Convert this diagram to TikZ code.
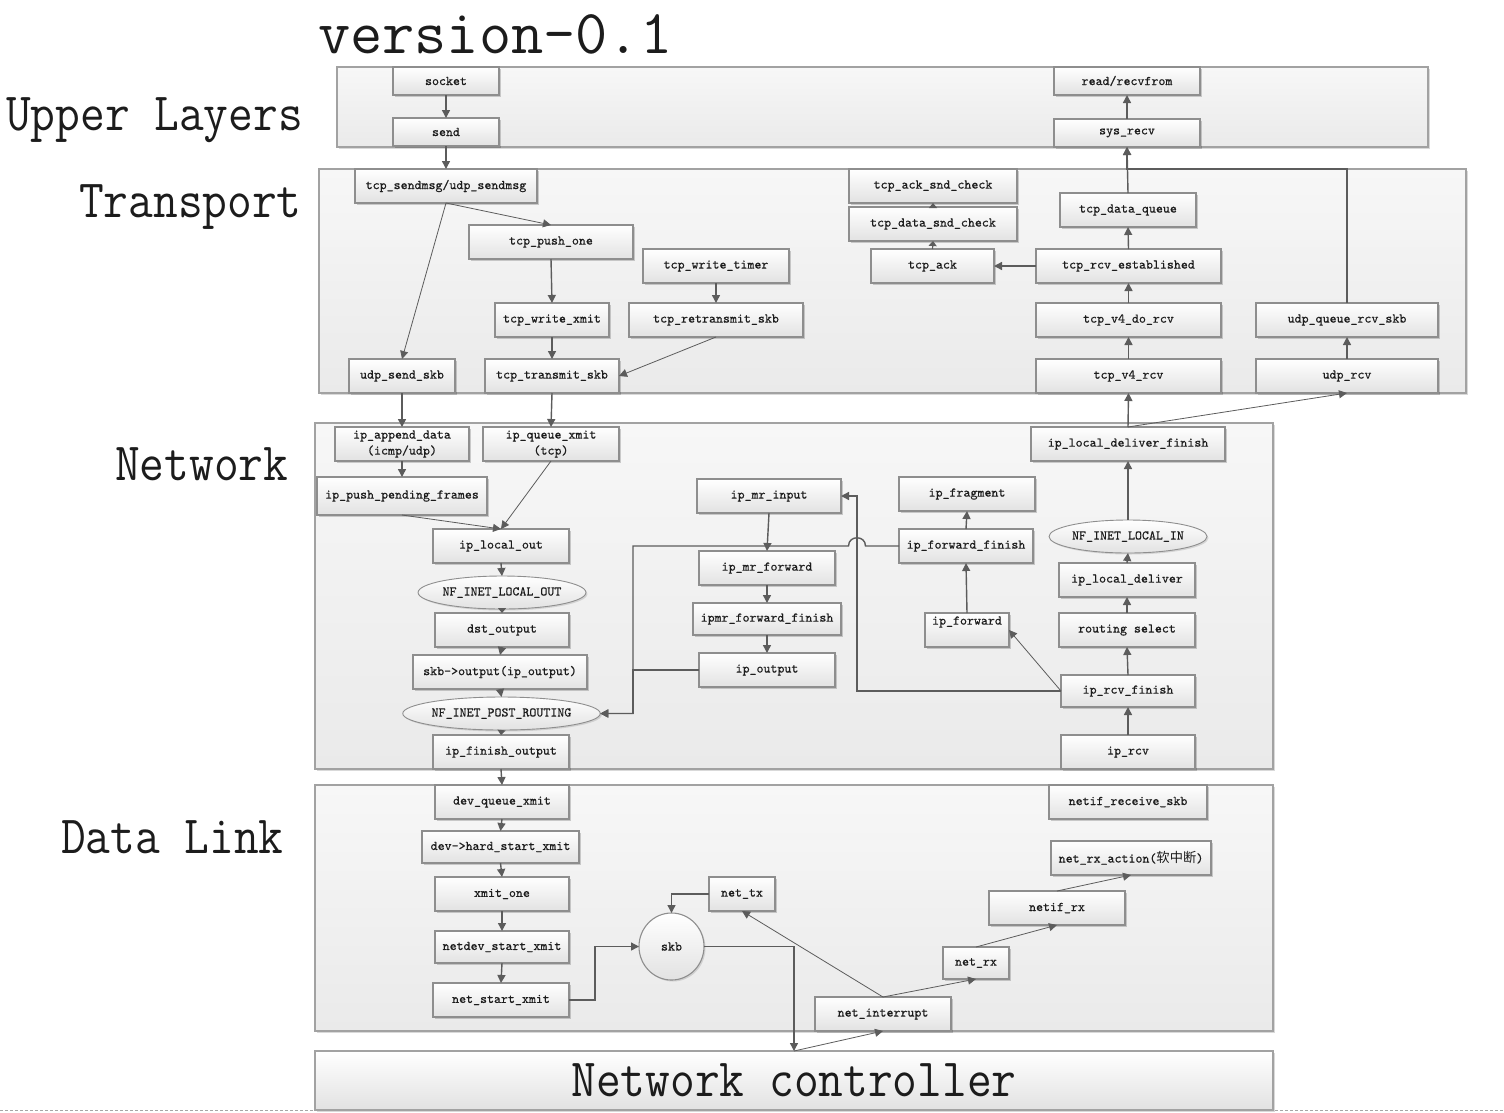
\documentclass[tikz,border=0pt]{standalone}
\usepackage{fontspec}
\usepackage{graphicx}
\newfontfamily\cjk{Noto Sans CJK SC}
\newfontfamily\boxtt[FakeBold=0.5]{lmmono10-regular.otf}
\usetikzlibrary{arrows.meta,shapes.geometric,shadows,calc}
\definecolor{bord}{HTML}{8E8E8E}
\definecolor{grpbord}{HTML}{A2A2A2}
\definecolor{arrc}{HTML}{5C5C5C}
\definecolor{boxbot}{HTML}{E2E2E2}
\definecolor{grptop}{HTML}{F7F7F7}
\definecolor{grpbot}{HTML}{EAEAEA}
\definecolor{txt}{HTML}{1C1C1C}
\newcommand\FN[7][]{\node[fn,minimum width={#5-#3},minimum height={#6-#4},#1] (#2) at ({(#3+#5)/2},{(#4+#6)/2}) {#7};}
\newcommand\GRP[7][]{\node[grp,minimum width={#5-#3},minimum height={#6-#4},#1] (#2) at ({(#3+#5)/2},{(#4+#6)/2}) {#7};}
\begin{document}
\begin{tikzpicture}[x=1pt,y=-1pt,
  fn/.style={draw=bord, line width=1.2pt, top color=white, bottom color=boxbot, inner sep=0pt, outer sep=0pt,
    font={\boxtt\fontsize{13.3}{16}\selectfont}, text=txt, align=center,
    drop shadow={shadow xshift=2pt,shadow yshift=-2pt,opacity=.18,fill=black}},
  elln/.style={ellipse, draw=bord, line width=0.9pt, top color=white, bottom color=boxbot, inner sep=0pt, outer sep=0pt,
    font={\boxtt\fontsize{13.3}{16}\selectfont}, text=txt,
    drop shadow={shadow xshift=1.5pt,shadow yshift=-1.5pt,opacity=.12,fill=black}},
  grp/.style={draw=grpbord, line width=1.6pt, top color=grptop, bottom color=grpbot, inner sep=0pt, outer sep=0pt,
    drop shadow={shadow xshift=2pt,shadow yshift=-2pt,opacity=.15,fill=black}},
  big/.style={font={\ttfamily\fontsize{48}{50}\selectfont}, text=txt, inner sep=0pt, anchor=base west},
  arr/.style={draw=arrc, line width=1.4pt, -{Triangle[length=8pt,width=8pt]}},
  thinarr/.style={draw=arrc, line width=0.8pt, -{Triangle[length=8pt,width=8pt]}},
  tinyarr/.style={draw=arrc, line width=1.2pt, -{Triangle[length=5pt,width=8pt]}},
  plain/.style={draw=arrc, line width=1.4pt}
]
\useasboundingbox (0,0) rectangle (1504,1112);

% ---------- titles ----------
\node[big, font={\ttfamily\fontsize{62.5}{64}\selectfont}] (lver) at (318,53) {version-0.1};
\node[big] (lupper) at (6,130) {\scalebox{1}[1.12]{Upper Layers}};
\node[big] (ltrans) at (79,217) {\scalebox{1}[1.12]{Transport}};
\node[big] (lnet) at (115,480) {\scalebox{1}[1.12]{Network}};
\node[big] (ldl) at (61,853) {\scalebox{1}[1.12]{Data Link}};

% ---------- dashed page line ----------
\coordinate (dl1) at (0,1110);
\coordinate (dl2) at (1504,1110);
\draw[draw=gray!70, line width=0.6pt, dash pattern=on 3pt off 2pt] (dl1) -- (dl2);

% ---------- containers ----------
\GRP{upper}{337}{67}{1428}{147}{}
\GRP{transport}{319}{169}{1466}{393}{}
\GRP{network}{315}{423}{1273}{769}{}
\GRP{datalink}{315}{785}{1273}{1031}{}
\GRP[top color=white, bottom color=boxbot, font={\ttfamily\fontsize{48}{50}\selectfont}, text=txt]{nc}{315}{1051}{1273}{1110}{\scalebox{1}[1.12]{Network controller}}

% ---------- upper layers ----------
\FN{socket}{393}{67}{499}{95}{socket}
\FN{send}{393}{118}{499}{146}{send}
\FN{readrecv}{1054}{67}{1200}{95}{read/recvfrom}
\FN{sysrecv}{1054}{119}{1200}{147}{sys\_recv}

% ---------- transport ----------
\FN{sendmsg}{355}{169}{537}{203}{tcp\_sendmsg/udp\_sendmsg}
\FN{pushone}{469}{225}{633}{259}{tcp\_push\_one}
\FN{wtimer}{643}{249}{789}{283}{tcp\_write\_timer}
\FN{wxmit}{495}{303}{609}{337}{tcp\_write\_xmit}
\FN{retrans}{629}{303}{803}{337}{tcp\_retransmit\_skb}
\FN{udpsend}{349}{359}{455}{393}{udp\_send\_skb}
\FN{transmit}{485}{359}{619}{393}{tcp\_transmit\_skb}
\FN{acksnd}{849}{169}{1017}{203}{tcp\_ack\_snd\_check}
\FN{datasnd}{849}{207}{1017}{241}{tcp\_data\_snd\_check}
\FN{tcpack}{871}{249}{994}{283}{tcp\_ack}
\FN{dataq}{1060}{193}{1196}{227}{tcp\_data\_queue}
\FN{rcvest}{1036}{249}{1221}{283}{tcp\_rcv\_established}
\FN{dorcv}{1036}{303}{1221}{337}{tcp\_v4\_do\_rcv}
\FN{uqrs}{1256}{303}{1438}{337}{udp\_queue\_rcv\_skb}
\FN{v4rcv}{1036}{359}{1221}{393}{tcp\_v4\_rcv}
\FN{udprcv}{1256}{359}{1438}{393}{udp\_rcv}

% ---------- network ----------
\FN{appdata}{335}{427}{469}{461}{ip\_append\_data\\(icmp/udp)}
\FN{queuexmit}{483}{427}{619}{461}{ip\_queue\_xmit\\(tcp)}
\FN{pushpend}{317}{477}{487}{515}{ip\_push\_pending\_frames}
\FN{localout}{433}{529}{569}{563}{ip\_local\_out}
\node[elln, minimum width=146pt, minimum height=33pt] (nflo) at (502,592.5) {NF\_INET\_LOCAL\_OUT};
\FN{dstout}{435}{613}{569}{647}{dst\_output}
\FN{skbout}{413}{655}{587}{689}{skb->output(ip\_output)}
\node[elln, minimum width=153pt, minimum height=33pt] (nfpr) at (501.5,713.5) {NF\_INET\_POST\_ROUTING};
\FN{finout}{433}{735}{569}{769}{ip\_finish\_output}
\FN{mrinput}{697}{479}{841}{513}{ip\_mr\_input}
\FN{mrfwd}{699}{551}{835}{585}{ip\_mr\_forward}
\FN{ipmrff}{693}{603}{841}{635}{ipmr\_forward\_finish}
\FN{ipout}{699}{653}{835}{687}{ip\_output}
\FN{ipfrag}{899}{477}{1035}{511}{ip\_fragment}
\FN{fwdfin}{899}{529}{1033}{563}{ip\_forward\_finish}
\FN{ipfwd}{925}{613}{1009}{647}{ip\_forward\\[3pt]\mbox{}}
\FN{ldfin}{1031}{427}{1225}{461}{ip\_local\_deliver\_finish}
\node[elln, minimum width=146pt, minimum height=33pt] (nfli) at (1128,536.5) {NF\_INET\_LOCAL\_IN};
\FN{ldeliv}{1059}{563}{1195}{597}{ip\_local\_deliver}
\FN{routing}{1059}{613}{1195}{647}{routing select}
\FN{rcvfin}{1061}{675}{1195}{707}{ip\_rcv\_finish}
\FN{iprcv}{1061}{735}{1195}{769}{ip\_rcv}

% ---------- data link ----------
\FN{devq}{435}{785}{569}{819}{dev\_queue\_xmit}
\FN{hard}{422}{831}{579}{863}{dev->hard\_start\_xmit}
\FN{xmitone}{435}{877}{569}{911}{xmit\_one}
\FN{netdev}{435}{931}{569}{963}{netdev\_start\_xmit}
\FN{netstart}{433}{983}{569}{1017}{net\_start\_xmit}
\node[elln, line width=1.1pt, minimum width=65pt, minimum height=67pt] (skb) at (671.5,946.5) {skb};
\FN{nettx}{709}{877}{775}{911}{net\_tx}
\FN{netint}{815}{997}{951}{1031}{net\_interrupt}
\FN{netrx}{943}{947}{1009}{979}{net\_rx}
\FN{netifrx}{989}{891}{1125}{925}{netif\_rx}
\FN{rxaction}{1051}{841}{1211}{875}{net\_rx\_action({\cjk 软中断})}
\FN{recvskb}{1049}{785}{1207}{819}{netif\_receive\_skb}

% ---------- helper coordinates ----------
\coordinate (jx) at (633,0);
\coordinate (jy) at (857,0);
\coordinate (ncin) at (794,1051);

% ---------- connectors: send path ----------
\draw[arr] (socket) -- (send);
\draw[arr] (send.south) -- (sendmsg.north);
\draw[thinarr] (sendmsg.south) -- (pushone.north);
\draw[thinarr] (sendmsg.south) -- (udpsend.north);
\draw[arr] (pushone.south) -- (wxmit.north);
\draw[arr] (wtimer.south) -- (retrans.north);
\draw[arr] (wxmit.south) -- (transmit.north);
\draw[thinarr] (retrans.south) -- (transmit.east);
\draw[arr] (udpsend.south) -- (appdata.north);
\draw[arr] (transmit.south) -- (queuexmit.north);
\draw[arr] (appdata.south) -- (pushpend.north);
\draw[thinarr] (pushpend.south) -- (localout.north);
\draw[thinarr] (queuexmit.south) -- (localout.north);
\draw[arr] (localout.south) -- (nflo.north);
\draw[tinyarr] (nflo.south) -- (dstout.north);
\draw[arr] (dstout.south) -- (skbout.north);
\draw[arr] (skbout.south) -- (nfpr.north);
\draw[tinyarr] (nfpr.south) -- (finout.north);
\draw[arr] (finout.south) -- (devq.north);
\draw[arr] (devq.south) -- (hard.north);
\draw[arr] (hard.south) -- (xmitone.north);
\draw[arr] (xmitone.south) -- (netdev.north);
\draw[arr] (netdev.south) -- (netstart.north);
\draw[arr] (netstart.east) -- ++(26,0) |- (skb.west);
\draw[arr] (nettx.west) -| (skb.north);
\draw[arr] (skb.east) -| (ncin);

% ---------- connectors: receive path ----------
\draw[thinarr] (ncin) -- (netint.south);
\draw[thinarr] (netint.north) -- (nettx.south);
\draw[thinarr] (netint.north) -- (netrx.south);
\draw[thinarr] (netrx.north) -- (netifrx.south);
\draw[thinarr] (netifrx.north) -- (rxaction.south);

\draw[arr] (iprcv.north) -- (rcvfin.south);
\draw[arr] (rcvfin.north) -- (routing.south);
\draw[arr] (routing.north) -- (ldeliv.south);
\draw[arr] (ldeliv.north) -- (nfli.south);
\draw[arr] (nfli.north) -- (ldfin.south);
\draw[arr] (ldfin.north) -- (v4rcv.south);
\draw[thinarr] (ldfin.north) -- (udprcv.south);
\draw[arr] (v4rcv.north) -- (dorcv.south);
\draw[arr] (dorcv.north) -- (rcvest.south);
\draw[arr] (rcvest.north) -- (dataq.south);
\draw[arr] (dataq.north) -- (sysrecv.south);
\draw[arr] (sysrecv.north) -- (readrecv.south);
\draw[arr] (rcvest.west) -- (tcpack.east);
\draw[tinyarr] (tcpack.north) -- (datasnd.south);
\draw[tinyarr] (datasnd.north) -- (acksnd.south);
\draw[arr] (udprcv.north) -- (uqrs.south);
\draw[arr] (uqrs.north) -- (uqrs.north |- transport.north) -| (sysrecv.south);

% ---------- connectors: forwarding / multicast ----------
\draw[arr] (rcvfin.west) -- (rcvfin.west -| jy) |- (mrinput.east);
\draw[thinarr] (rcvfin.west) -- (ipfwd.east);
\draw[arr] (ipfwd.north) -- (fwdfin.south);
\draw[arr] (fwdfin.north) -- (ipfrag.south);
\draw[arr] (mrinput.south) -- (mrfwd.north);
\draw[arr] (mrfwd.south) -- (ipmrff.north);
\draw[arr] (ipmrff.south) -- (ipout.north);
\draw[arr] (ipout.west) -- (ipout.west -| jx) |- (nfpr.east);
\draw[arr] (fwdfin.west) -- (865.5,546) .. controls (865.5,535) and (848.5,535) .. (848.5,546) -- (fwdfin.west -| jx) |- (nfpr.east);
\end{tikzpicture}
\end{document}
